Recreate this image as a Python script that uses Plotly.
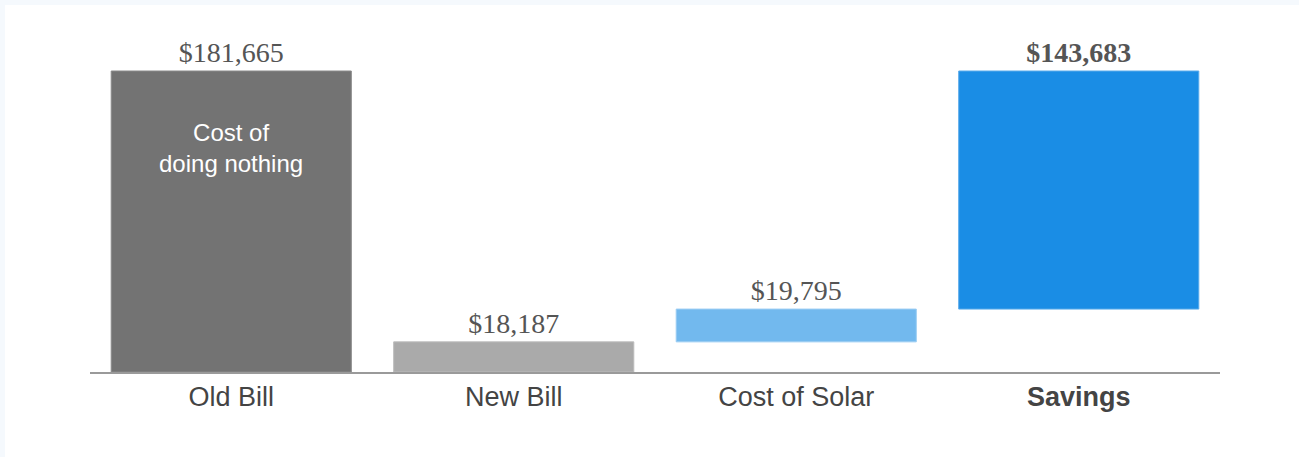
import plotly.graph_objects as go

categories = ["Old Bill", "New Bill", "Cost of Solar", "Savings"]
tick_labels = ["Old Bill", "New Bill", "Cost of Solar", "<b>Savings</b>"]
old_bill = 181665
new_bill = 18187
cost_of_solar = 19795
savings = old_bill - new_bill - cost_of_solar  # 143,683

values = [old_bill, new_bill, cost_of_solar, savings]
bases = [0, 0, new_bill, new_bill + cost_of_solar]
colors = ["#737373", "#aaaaaa", "#72b9ee", "#1a8de5"]
line_colors = ["#8a8a8a", "#bcbcbc", "#9ccdf3", "#5aaceb"]
labels = ["$181,665", "$18,187", "$19,795", "<b>$143,683</b>"]

W, H = 1299, 457
L, R, T, B = 90, 79, 41, 85
plot_w = W - L - R
plot_h = H - T - B
ymax = old_bill * plot_h / 301.0

fig = go.Figure()
fig.add_trace(go.Bar(
    x=categories, y=values, base=bases,
    marker=dict(color=colors, line=dict(color=line_colors, width=1)),
    width=0.85,
    text=labels, textposition="outside",
    textfont=dict(family="Liberation Serif, Times New Roman, serif", size=28, color="#555555"),
    cliponaxis=False,
    hoverinfo="skip",
))

fig.add_annotation(
    x=categories[0], y=old_bill, xref="x", yref="y",
    text="Cost of<br>doing nothing", showarrow=False,
    yanchor="top", yshift=-46,
    font=dict(family="Liberation Sans, Arial, sans-serif", size=24, color="#ffffff"),
    align="center",
)

# white card over the light page band (band visible only at top / left)
fig.add_shape(type="rect", xref="paper", yref="paper",
              x0=(5 - L) / plot_w, x1=(W + 5 - L) / plot_w,
              y0=-(B + 5) / plot_h, y1=(H - 5 - B) / plot_h,
              fillcolor="#ffffff", line=dict(width=0), layer="below")

fig.update_layout(
    width=W, height=H,
    margin=dict(l=L, r=R, t=T, b=B),
    paper_bgcolor="#f5f9fd",
    plot_bgcolor="rgba(0,0,0,0)",
    showlegend=False,
    xaxis=dict(
        type="category", categoryorder="array", categoryarray=categories,
        tickvals=categories, ticktext=tick_labels,
        range=[-0.5, 3.5],
        showline=True, linecolor="#9a9a9a", linewidth=2,
        showgrid=False, zeroline=False, ticks="",
        tickfont=dict(family="Liberation Sans, Arial, sans-serif", size=27, color="#444444"),
        ticklabelstandoff=0,
    ),
    yaxis=dict(range=[0, ymax], visible=False, showgrid=False, zeroline=False),
)

fig.write_html("out.html",
               config={"displayModeBar": False},
               post_script="document.body.style.margin='0';document.body.style.overflow='hidden';")
